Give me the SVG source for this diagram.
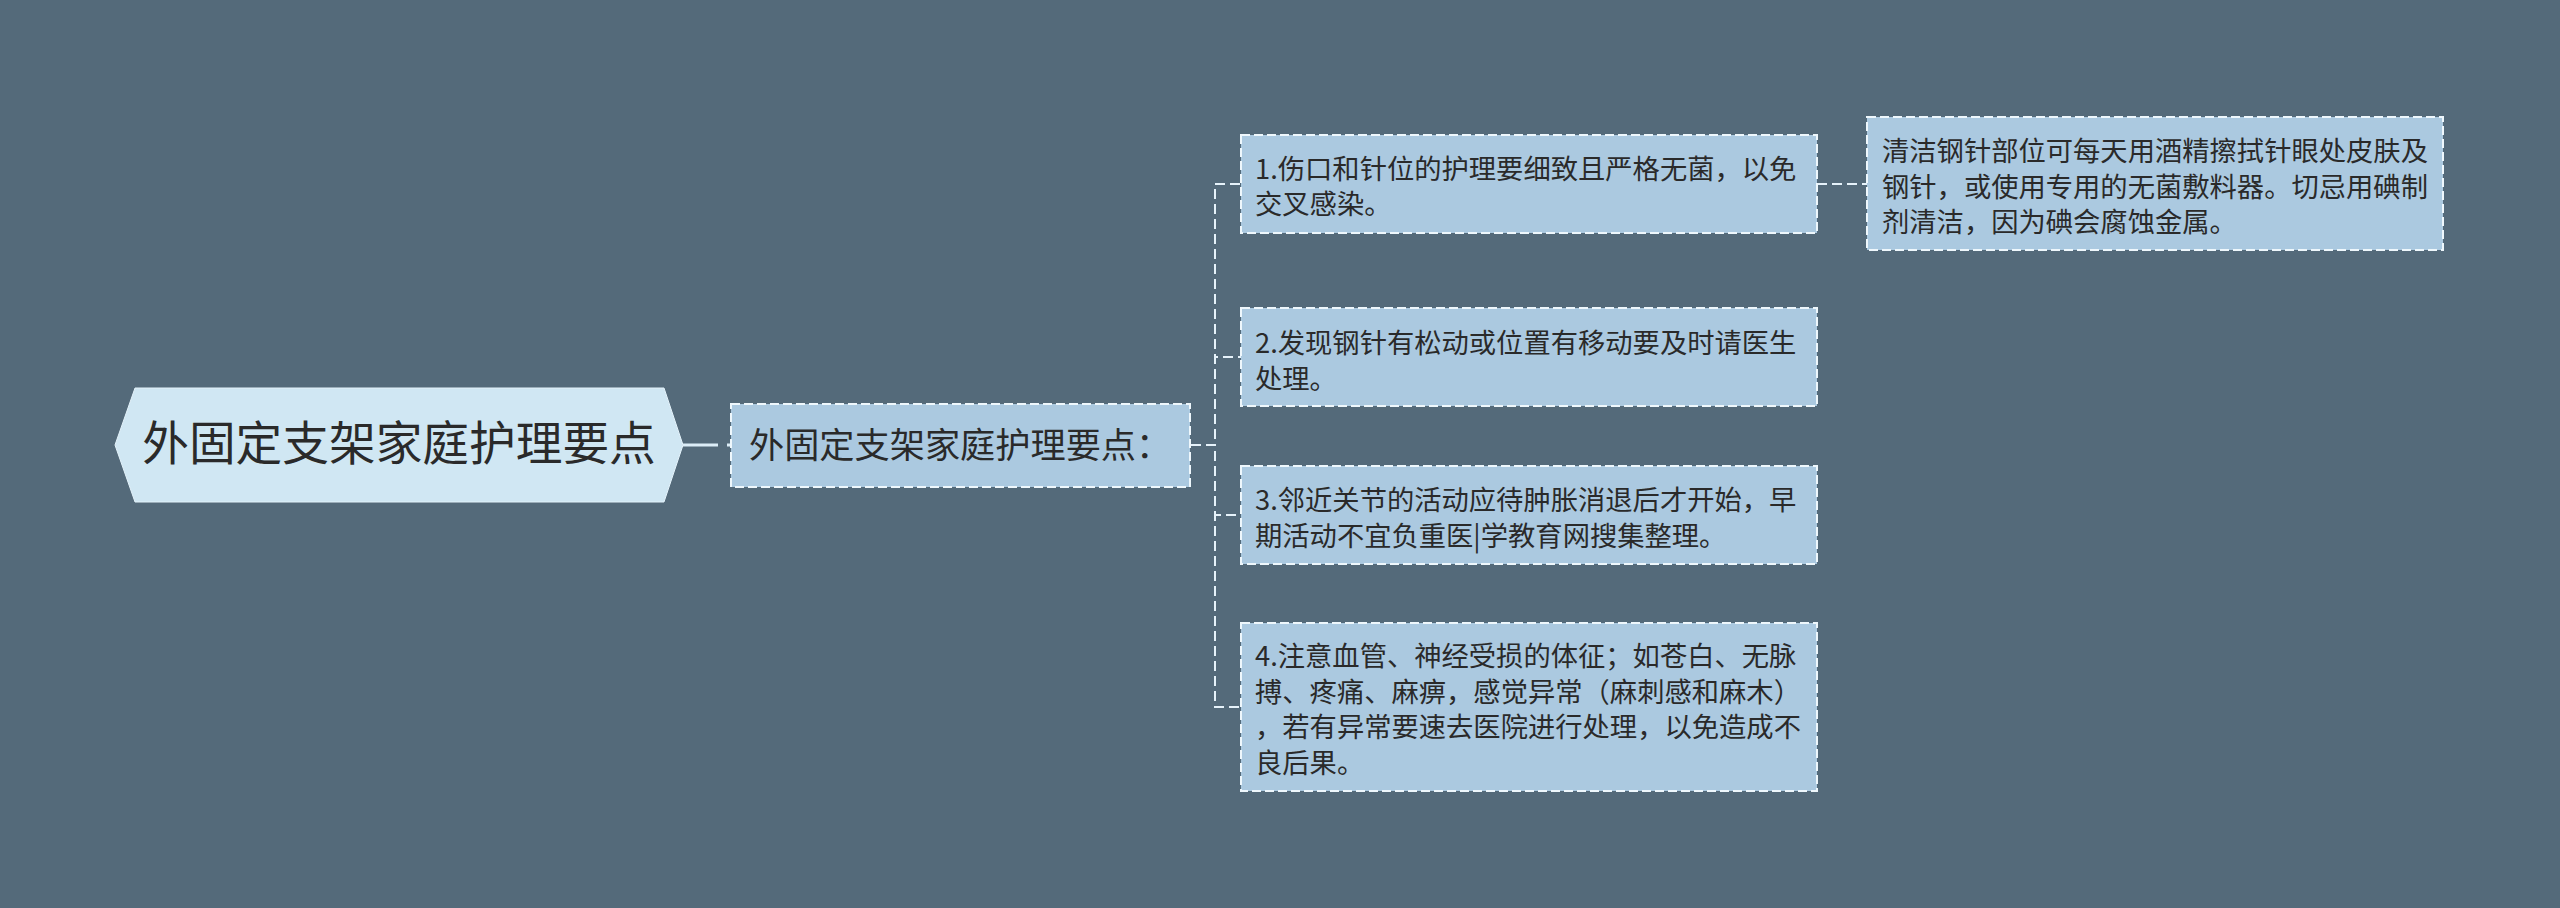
<svg xmlns="http://www.w3.org/2000/svg" width="2560" height="908" viewBox="0 0 2560 908">
<style>
.t{font-family:"Noto Sans CJK SC","Noto Sans",sans-serif;fill:#2a2a2a}
.leaf{fill:#abc9e0;stroke:#eef7fc;stroke-width:2;stroke-dasharray:9 4}
.lt{font-size:27.3px}
.conn{fill:none;stroke:#e6f2fa;stroke-width:2;stroke-dasharray:10 5}
</style>
<rect width="2560" height="908" fill="#546a7a"/>
<g id="connectors">
<line x1="683" y1="445" x2="731" y2="445" stroke="#dcedf7" stroke-width="3" stroke-dasharray="35 9 20"/>
<path class="conn" d="M1191,445 H1215 V184 H1241"/>
<path class="conn" d="M1191,445 H1215 V357 H1241"/>
<path class="conn" d="M1191,445 H1215 V515 H1241"/>
<path class="conn" d="M1191,445 H1215 V707 H1241"/>
<path class="conn" d="M1817,184 H1867"/>
</g>
<g id="root">
<polygon points="115,445 135,388 664,388 683,445 664,502 135,502" fill="#d0e7f3" stroke="#e3f2fa" stroke-width="1"/>
<text class="t" x="399" y="460" font-size="46.7" text-anchor="middle">外固定支架家庭护理要点</text>
</g>
<g id="main">
<rect class="leaf" x="731" y="404" width="459" height="83"/>
<text class="t" x="749" y="457.5" font-size="35.2">外固定支架家庭护理要点：</text>
</g>
<g id="item1">
<rect class="leaf" x="1241" y="135" width="576" height="98"/>
<text class="t lt" x="1255" y="178.5">1.伤口和针位的护理要细致且严格无菌，以免</text>
<text class="t lt" x="1255" y="214">交叉感染。</text>
</g>
<g id="item1detail">
<rect class="leaf" x="1867" y="117" width="576" height="133"/>
<text class="t lt" x="1882" y="161">清洁钢针部位可每天用酒精擦拭针眼处皮肤及</text>
<text class="t lt" x="1882" y="196.5">钢针，或使用专用的无菌敷料器。切忌用碘制</text>
<text class="t lt" x="1882" y="232">剂清洁，因为碘会腐蚀金属。</text>
</g>
<g id="item2">
<rect class="leaf" x="1241" y="308" width="576" height="98"/>
<text class="t lt" x="1255" y="353">2.发现钢针有松动或位置有移动要及时请医生</text>
<text class="t lt" x="1255" y="389">处理。</text>
</g>
<g id="item3">
<rect class="leaf" x="1241" y="466" width="576" height="98"/>
<text class="t lt" x="1255" y="510">3.邻近关节的活动应待肿胀消退后才开始，早</text>
<text class="t lt" x="1255" y="546">期活动不宜负重医|学教育网搜集整理。</text>
</g>
<g id="item4">
<rect class="leaf" x="1241" y="623" width="576" height="168"/>
<text class="t lt" x="1255" y="666">4.注意血管、神经受损的体征；如苍白、无脉</text>
<text class="t lt" x="1255" y="702">搏、疼痛、麻痹，感觉异常（麻刺感和麻木）</text>
<text class="t lt" x="1255" y="737">，若有异常要速去医院进行处理，以免造成不</text>
<text class="t lt" x="1255" y="773">良后果。</text>
</g>
</svg>
